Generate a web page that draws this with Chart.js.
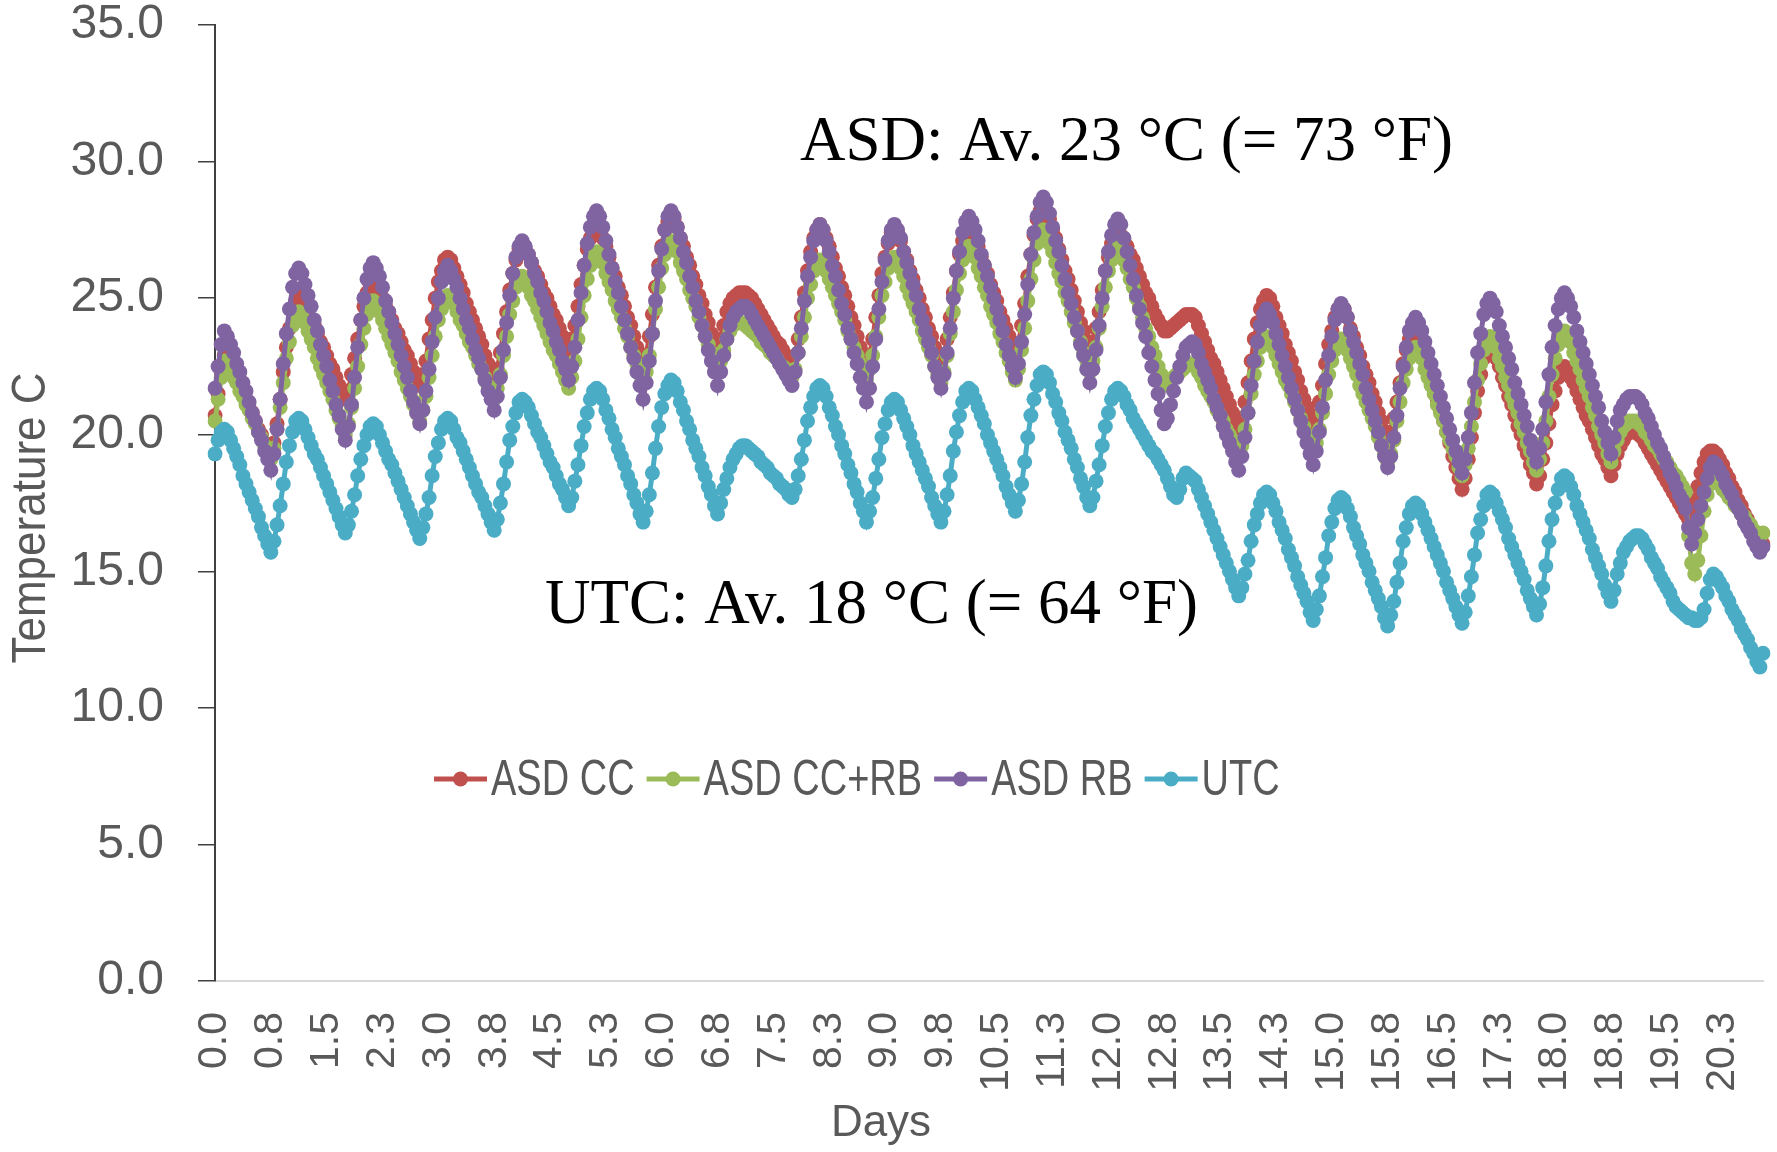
<!DOCTYPE html>
<html lang="en">
<head>
<meta charset="UTF-8">
<title>Temperature C - ASD vs UTC</title>
<script src="https://cdn.jsdelivr.net/npm/chart.js"></script>
<style>
    body {
        margin: 0;
        background: #fff;
    }

    .wrap {
        width: 1777px;
        height: 1152px;
        position: relative;
    }
</style>
</head>
<body>
<div class="wrap"><canvas id="tempChart"></canvas></div>

<script>
    // hourly readings, one row per day (peak to peak)
    const seriesNames = ['ASD CC', 'ASD CC+RB', 'ASD RB', 'UTC'];
    const seriesColors = ['#c0504d', '#9bbb59', '#8064a2', '#4bacc6'];

    const dayTicks = ['0.0', '0.8', '1.5', '2.3', '3.0', '3.8', '4.5', '5.3', '6.0', '6.8', '7.5', '8.3', '9.0', '9.8',
        '10.5', '11.3', '12.0', '12.8', '13.5', '14.3', '15.0', '15.8', '16.5', '17.3', '18.0', '18.8', '19.5', '20.3'];
    const tickEvery = 18;

    const asdCC = [
        20.7, 21.5, 22.3, 22.9,
        22.8, 22.6, 22.3, 22.1, 21.8, 21.5, 21.3, 21.0, 20.8, 20.5, 20.2, 20.0, 19.7, 19.5, 19.2, 19.7, 20.4, 21.3, 22.3, 23.2, 23.9, 24.5, 24.9, 25.1,
        25.0, 24.8, 24.5, 24.2, 24.0, 23.7, 23.4, 23.2, 22.9, 22.6, 22.4, 22.1, 21.8, 21.6, 21.3, 21.6, 22.2, 22.8, 23.5, 24.2, 24.7, 25.2, 25.5, 25.6,
        25.5, 25.3, 25.0, 24.7, 24.5, 24.2, 23.9, 23.7, 23.4, 23.1, 22.9, 22.6, 22.3, 22.1, 21.8, 22.2, 22.7, 23.5, 24.2, 25.0, 25.6, 26.0, 26.4, 26.5,
        26.4, 26.1, 25.8, 25.5, 25.2, 24.8, 24.5, 24.2, 23.9, 23.6, 23.3, 22.9, 22.6, 22.3, 22.0, 22.4, 23.0, 23.7, 24.5, 25.3, 25.9, 26.4, 26.8, 26.9,
        26.8, 26.6, 26.3, 26.0, 25.8, 25.5, 25.2, 25.0, 24.7, 24.4, 24.2, 23.9, 23.6, 23.4, 23.1, 23.5, 24.0, 24.7, 25.5, 26.2, 26.8, 27.2, 27.6, 27.7,
        27.5, 27.2, 26.9, 26.5, 26.1, 25.8, 25.4, 25.1, 24.7, 24.3, 24.0, 23.6, 23.2, 22.9, 22.5, 22.9, 23.6, 24.4, 25.4, 26.2, 26.9, 27.5, 27.8, 28.0,
        27.9, 27.6, 27.2, 26.9, 26.5, 26.2, 25.8, 25.5, 25.1, 24.8, 24.4, 24.1, 23.7, 23.4, 23.0, 23.5, 24.0, 24.5, 24.8, 25.0, 25.1, 25.2, 25.2, 25.2,
        25.1, 25.0, 24.8, 24.6, 24.4, 24.2, 24.0, 23.8, 23.6, 23.4, 23.3, 23.1, 22.9, 22.7, 22.5, 22.9, 23.5, 24.3, 25.2, 26.0, 26.7, 27.2, 27.5, 27.7,
        27.5, 27.2, 26.9, 26.5, 26.1, 25.8, 25.4, 25.1, 24.7, 24.3, 24.0, 23.6, 23.2, 22.9, 22.5, 22.9, 23.5, 24.3, 25.1, 25.9, 26.5, 27.0, 27.4, 27.5,
        27.4, 27.1, 26.7, 26.4, 26.0, 25.7, 25.3, 25.0, 24.6, 24.3, 23.9, 23.6, 23.2, 22.9, 22.5, 22.9, 23.5, 24.3, 25.2, 26.0, 26.6, 27.1, 27.5, 27.6,
        27.5, 27.2, 26.9, 26.5, 26.2, 25.9, 25.5, 25.2, 24.9, 24.5, 24.2, 23.9, 23.6, 23.2, 22.9, 23.3, 24.0, 24.8, 25.8, 26.6, 27.3, 27.9, 28.2, 28.4,
        28.2, 27.9, 27.5, 27.2, 26.8, 26.4, 26.0, 25.7, 25.3, 24.9, 24.5, 24.1, 23.8, 23.4, 23.0, 23.4, 23.9, 24.5, 25.3, 26.0, 26.5, 27.0, 27.3, 27.4,
        27.3, 27.1, 26.9, 26.6, 26.4, 26.1, 25.8, 25.5, 25.2, 25.0, 24.7, 24.4, 24.2, 24.0, 23.8, 23.8, 23.9, 24.0, 24.1, 24.2, 24.3, 24.4, 24.4, 24.4,
        24.3, 24.0, 23.7, 23.4, 23.1, 22.8, 22.6, 22.3, 22.0, 21.7, 21.4, 21.1, 20.8, 20.5, 20.2, 20.6, 21.2, 21.9, 22.7, 23.5, 24.1, 24.6, 24.9, 25.1,
        25.0, 24.7, 24.3, 24.0, 23.7, 23.3, 23.0, 22.7, 22.3, 22.0, 21.6, 21.3, 21.0, 20.6, 20.3, 20.7, 21.2, 21.8, 22.6, 23.3, 23.8, 24.3, 24.6, 24.7,
        24.6, 24.3, 23.9, 23.6, 23.2, 22.9, 22.5, 22.2, 21.9, 21.5, 21.2, 20.8, 20.5, 20.1, 19.8, 20.1, 20.6, 21.2, 21.9, 22.6, 23.1, 23.5, 23.8, 23.9,
        23.7, 23.4, 23.0, 22.5, 22.1, 21.7, 21.3, 20.9, 20.5, 20.1, 19.7, 19.2, 18.8, 18.4, 18.0, 18.4, 19.1, 19.9, 20.8, 21.6, 22.2, 22.8, 23.1, 23.3,
        23.1, 22.8, 22.5, 22.1, 21.8, 21.4, 21.1, 20.7, 20.3, 20.0, 19.6, 19.3, 18.9, 18.6, 18.2, 18.5, 19.1, 19.7, 20.4, 21.1, 21.6, 22.1, 22.4, 22.5,
        22.4, 22.1, 21.9, 21.6, 21.3, 21.0, 20.7, 20.5, 20.2, 19.9, 19.6, 19.3, 19.1, 18.8, 18.5, 18.9, 19.3, 19.6, 19.8, 20.0, 20.1, 20.1, 20.1, 20.0,
        19.9, 19.7, 19.5, 19.3, 19.1, 18.9, 18.7, 18.5, 18.3, 18.1, 17.9, 17.7, 17.5, 17.3, 17.1, 16.9, 17.1, 17.6, 18.1, 18.6, 19.0, 19.3, 19.4, 19.4,
        19.3, 19.1, 18.9, 18.6, 18.4, 18.1, 17.9, 17.6, 17.4, 17.1, 16.9, 16.6, 16.4, 16.1, 15.9, 16.0
    ];

    const asdCCRB = [
        20.5, 21.3, 22.1, 22.7,
        22.6, 22.4, 22.1, 21.9, 21.6, 21.4, 21.1, 20.9, 20.6, 20.4, 20.1, 19.9, 19.6, 19.4, 19.1, 19.5, 20.2, 21.0, 21.9, 22.8, 23.4, 24.0, 24.3, 24.5,
        24.4, 24.1, 23.8, 23.5, 23.2, 22.8, 22.5, 22.2, 21.9, 21.6, 21.3, 20.9, 20.6, 20.3, 20.0, 20.4, 21.0, 21.7, 22.5, 23.3, 23.9, 24.4, 24.8, 24.9,
        24.8, 24.5, 24.2, 23.9, 23.6, 23.3, 23.0, 22.7, 22.3, 22.0, 21.7, 21.4, 21.1, 20.8, 20.5, 20.9, 21.4, 22.1, 22.9, 23.6, 24.2, 24.6, 25.0, 25.1,
        25.0, 24.8, 24.5, 24.2, 24.0, 23.7, 23.4, 23.2, 22.9, 22.6, 22.4, 22.1, 21.8, 21.6, 21.3, 21.7, 22.2, 22.9, 23.6, 24.4, 24.9, 25.4, 25.7, 25.8,
        25.7, 25.4, 25.1, 24.9, 24.6, 24.3, 24.0, 23.7, 23.4, 23.1, 22.9, 22.6, 22.3, 22.0, 21.7, 22.1, 22.7, 23.5, 24.3, 25.1, 25.7, 26.2, 26.6, 26.7,
        26.6, 26.3, 25.9, 25.6, 25.3, 24.9, 24.6, 24.3, 23.9, 23.6, 23.2, 22.9, 22.6, 22.2, 21.9, 22.3, 22.9, 23.7, 24.6, 25.4, 26.1, 26.6, 26.9, 27.1,
        27.0, 26.7, 26.3, 26.0, 25.7, 25.3, 25.0, 24.7, 24.3, 24.0, 23.6, 23.3, 23.0, 22.6, 22.3, 22.7, 23.1, 23.5, 23.8, 24.0, 24.1, 24.1, 24.1, 24.0,
        23.9, 23.8, 23.7, 23.6, 23.4, 23.3, 23.2, 23.0, 22.9, 22.8, 22.6, 22.5, 22.4, 22.2, 22.1, 22.4, 23.0, 23.6, 24.3, 25.0, 25.5, 26.0, 26.3, 26.4,
        26.3, 26.0, 25.7, 25.4, 25.1, 24.8, 24.5, 24.2, 23.8, 23.5, 23.2, 22.9, 22.6, 22.3, 22.0, 22.4, 22.9, 23.6, 24.3, 25.1, 25.6, 26.1, 26.4, 26.5,
        26.4, 26.1, 25.8, 25.4, 25.1, 24.8, 24.5, 24.2, 23.8, 23.5, 23.2, 22.9, 22.5, 22.2, 21.9, 22.3, 22.9, 23.7, 24.5, 25.3, 25.9, 26.4, 26.8, 26.9,
        26.8, 26.5, 26.1, 25.8, 25.4, 25.1, 24.7, 24.4, 24.1, 23.7, 23.4, 23.0, 22.7, 22.3, 22.0, 22.4, 23.1, 23.9, 24.9, 25.7, 26.4, 27.0, 27.3, 27.5,
        27.3, 27.0, 26.7, 26.3, 25.9, 25.6, 25.2, 24.9, 24.5, 24.1, 23.8, 23.4, 23.0, 22.7, 22.3, 22.7, 23.2, 23.9, 24.7, 25.4, 26.0, 26.4, 26.8, 26.9,
        26.7, 26.4, 26.1, 25.7, 25.4, 25.0, 24.7, 24.3, 23.9, 23.6, 23.2, 22.9, 22.5, 22.2, 21.8, 21.9, 22.0, 22.1, 22.2, 22.3, 22.4, 22.5, 22.6, 22.6,
        22.5, 22.3, 22.1, 21.8, 21.6, 21.4, 21.2, 20.9, 20.7, 20.5, 20.2, 20.0, 19.8, 19.5, 19.3, 19.6, 20.2, 20.8, 21.5, 22.2, 22.7, 23.2, 23.5, 23.6,
        23.5, 23.2, 22.9, 22.6, 22.3, 22.0, 21.8, 21.5, 21.2, 20.9, 20.6, 20.3, 20.0, 19.7, 19.4, 19.7, 20.2, 20.8, 21.5, 22.2, 22.7, 23.1, 23.4, 23.5,
        23.4, 23.1, 22.8, 22.5, 22.2, 21.8, 21.5, 21.2, 20.9, 20.6, 20.3, 19.9, 19.6, 19.3, 19.0, 19.3, 19.8, 20.5, 21.2, 21.9, 22.4, 22.8, 23.1, 23.2,
        23.1, 22.8, 22.4, 22.1, 21.8, 21.5, 21.1, 20.8, 20.5, 20.1, 19.8, 19.5, 19.2, 18.8, 18.5, 18.9, 19.5, 20.3, 21.2, 22.0, 22.6, 23.1, 23.5, 23.6,
        23.5, 23.2, 22.8, 22.5, 22.1, 21.8, 21.4, 21.1, 20.8, 20.4, 20.1, 19.7, 19.4, 19.0, 18.7, 19.1, 19.7, 20.5, 21.4, 22.2, 22.8, 23.3, 23.6, 23.8,
        23.7, 23.4, 23.0, 22.7, 22.4, 22.0, 21.7, 21.4, 21.0, 20.7, 20.3, 20.0, 19.7, 19.3, 19.0, 19.4, 19.8, 20.1, 20.3, 20.4, 20.5, 20.5, 20.5, 20.4,
        20.3, 20.1, 20.0, 19.8, 19.6, 19.5, 19.3, 19.1, 19.0, 18.8, 18.6, 18.5, 18.3, 18.1, 17.9, 16.3, 15.3, 14.9, 15.4, 16.3, 17.2, 17.8, 18.2, 18.4,
        18.3, 18.2, 18.0, 17.9, 17.7, 17.6, 17.4, 17.3, 17.1, 17.0, 16.8, 16.7, 16.5, 16.4, 16.3, 16.4
    ];

    const asdRB = [
        21.7, 22.5, 23.3, 23.8,
        23.6, 23.3, 23.0, 22.6, 22.3, 21.9, 21.6, 21.2, 20.8, 20.5, 20.1, 19.8, 19.4, 19.1, 18.7, 19.3, 20.2, 21.3, 22.6, 23.7, 24.6, 25.4, 25.9, 26.1,
        25.9, 25.5, 25.1, 24.7, 24.2, 23.8, 23.3, 22.9, 22.5, 22.0, 21.6, 21.1, 20.7, 20.2, 19.8, 20.3, 21.1, 22.1, 23.2, 24.2, 25.0, 25.7, 26.1, 26.3,
        26.1, 25.8, 25.4, 24.9, 24.5, 24.1, 23.7, 23.3, 22.9, 22.5, 22.1, 21.6, 21.2, 20.8, 20.4, 20.9, 21.6, 22.4, 23.4, 24.3, 25.0, 25.6, 26.0, 26.2,
        26.0, 25.7, 25.4, 25.0, 24.6, 24.2, 23.9, 23.5, 23.1, 22.8, 22.4, 22.0, 21.6, 21.3, 20.9, 21.4, 22.1, 23.1, 24.1, 25.1, 25.9, 26.5, 26.9, 27.1,
        26.9, 26.6, 26.3, 25.9, 25.6, 25.2, 24.9, 24.5, 24.1, 23.8, 23.4, 23.1, 22.7, 22.4, 22.0, 22.5, 23.2, 24.2, 25.2, 26.2, 27.0, 27.6, 28.0, 28.2,
        28.0, 27.6, 27.1, 26.6, 26.1, 25.6, 25.2, 24.7, 24.2, 23.7, 23.2, 22.8, 22.3, 21.8, 21.3, 21.9, 22.7, 23.7, 24.9, 26.0, 26.8, 27.5, 28.0, 28.2,
        28.0, 27.6, 27.2, 26.7, 26.3, 25.8, 25.4, 24.9, 24.5, 24.0, 23.6, 23.1, 22.7, 22.3, 21.8, 22.3, 22.9, 23.5, 24.0, 24.3, 24.5, 24.6, 24.7, 24.7,
        24.6, 24.4, 24.2, 24.0, 23.8, 23.6, 23.4, 23.2, 23.0, 22.8, 22.6, 22.4, 22.2, 22.0, 21.8, 22.3, 23.0, 23.9, 24.9, 25.8, 26.5, 27.1, 27.5, 27.7,
        27.5, 27.1, 26.7, 26.2, 25.8, 25.3, 24.8, 24.4, 23.9, 23.5, 23.0, 22.6, 22.1, 21.7, 21.2, 21.7, 22.5, 23.5, 24.6, 25.6, 26.4, 27.1, 27.5, 27.7,
        27.5, 27.2, 26.7, 26.3, 25.9, 25.5, 25.1, 24.6, 24.2, 23.8, 23.4, 23.0, 22.5, 22.1, 21.7, 22.2, 23.0, 23.9, 25.0, 26.0, 26.7, 27.4, 27.8, 28.0,
        27.8, 27.5, 27.1, 26.6, 26.2, 25.8, 25.4, 25.0, 24.6, 24.2, 23.8, 23.3, 22.9, 22.5, 22.1, 22.6, 23.4, 24.4, 25.5, 26.6, 27.4, 28.0, 28.5, 28.7,
        28.5, 28.1, 27.6, 27.1, 26.7, 26.2, 25.7, 25.2, 24.8, 24.3, 23.8, 23.3, 22.9, 22.4, 21.9, 22.4, 23.1, 24.0, 25.0, 26.0, 26.7, 27.3, 27.7, 27.9,
        27.7, 27.2, 26.7, 26.2, 25.7, 25.1, 24.6, 24.1, 23.6, 23.0, 22.5, 22.0, 21.5, 20.9, 20.4, 20.6, 21.1, 21.6, 22.1, 22.5, 22.9, 23.2, 23.3, 23.4,
        23.3, 23.0, 22.6, 22.3, 22.0, 21.7, 21.3, 21.0, 20.7, 20.3, 20.0, 19.7, 19.4, 19.0, 18.7, 19.2, 19.9, 20.8, 21.8, 22.7, 23.4, 24.0, 24.4, 24.6,
        24.4, 24.1, 23.7, 23.3, 22.9, 22.5, 22.1, 21.7, 21.3, 20.9, 20.5, 20.1, 19.7, 19.3, 18.9, 19.4, 20.1, 21.0, 22.0, 22.9, 23.6, 24.2, 24.6, 24.8,
        24.6, 24.3, 23.8, 23.4, 23.0, 22.6, 22.2, 21.7, 21.3, 20.9, 20.5, 20.1, 19.6, 19.2, 18.8, 19.2, 19.9, 20.7, 21.7, 22.5, 23.2, 23.8, 24.1, 24.3,
        24.1, 23.8, 23.4, 23.0, 22.6, 22.2, 21.8, 21.4, 21.0, 20.6, 20.2, 19.8, 19.4, 19.0, 18.6, 19.1, 19.9, 20.8, 21.9, 23.0, 23.7, 24.4, 24.8, 25.0,
        24.8, 24.5, 24.0, 23.6, 23.2, 22.8, 22.4, 21.9, 21.5, 21.1, 20.7, 20.3, 19.8, 19.4, 19.0, 19.5, 20.2, 21.2, 22.2, 23.2, 24.0, 24.6, 25.0, 25.2,
        25.0, 24.7, 24.3, 23.8, 23.4, 23.0, 22.6, 22.2, 21.8, 21.4, 21.0, 20.5, 20.1, 19.7, 19.3, 19.9, 20.5, 20.9, 21.1, 21.3, 21.4, 21.4, 21.4, 21.3,
        21.1, 20.8, 20.6, 20.3, 20.0, 19.7, 19.5, 19.2, 18.9, 18.6, 18.4, 18.1, 17.8, 17.6, 17.3, 16.6, 16.0, 16.4, 16.9, 17.4, 17.9, 18.4, 18.8, 19.0,
        18.9, 18.7, 18.5, 18.2, 18.0, 17.8, 17.5, 17.3, 17.1, 16.8, 16.6, 16.4, 16.1, 15.9, 15.7, 15.9
    ];

    const utc = [
        19.3, 19.8, 20.1, 20.2,
        20.1, 19.8, 19.5, 19.2, 18.9, 18.5, 18.2, 17.9, 17.6, 17.3, 17.0, 16.6, 16.3, 16.0, 15.7, 16.1, 16.7, 17.4, 18.2, 19.0, 19.6, 20.1, 20.5, 20.6,
        20.5, 20.2, 19.9, 19.6, 19.3, 19.1, 18.8, 18.5, 18.2, 17.9, 17.6, 17.3, 17.0, 16.7, 16.4, 16.7, 17.2, 17.8, 18.5, 19.1, 19.6, 20.0, 20.3, 20.4,
        20.3, 20.0, 19.7, 19.4, 19.1, 18.9, 18.6, 18.3, 18.0, 17.7, 17.4, 17.1, 16.8, 16.5, 16.2, 16.6, 17.1, 17.7, 18.5, 19.2, 19.7, 20.2, 20.5, 20.6,
        20.5, 20.2, 19.9, 19.7, 19.4, 19.1, 18.8, 18.5, 18.2, 17.9, 17.7, 17.4, 17.1, 16.8, 16.5, 16.9, 17.5, 18.2, 19.0, 19.8, 20.3, 20.8, 21.2, 21.3,
        21.2, 21.0, 20.7, 20.4, 20.1, 19.9, 19.6, 19.3, 19.0, 18.8, 18.5, 18.2, 18.0, 17.7, 17.4, 17.7, 18.3, 18.9, 19.6, 20.3, 20.8, 21.3, 21.6, 21.7,
        21.6, 21.3, 20.9, 20.6, 20.2, 19.9, 19.5, 19.2, 18.9, 18.5, 18.2, 17.8, 17.5, 17.1, 16.8, 17.2, 17.8, 18.6, 19.5, 20.3, 21.0, 21.5, 21.8, 22.0,
        21.9, 21.6, 21.2, 20.9, 20.5, 20.2, 19.8, 19.5, 19.2, 18.8, 18.5, 18.1, 17.8, 17.4, 17.1, 17.5, 18.0, 18.4, 18.8, 19.1, 19.3, 19.5, 19.6, 19.6,
        19.5, 19.4, 19.3, 19.2, 19.0, 18.9, 18.8, 18.6, 18.5, 18.4, 18.2, 18.1, 18.0, 17.8, 17.7, 18.0, 18.5, 19.1, 19.8, 20.5, 21.0, 21.4, 21.7, 21.8,
        21.7, 21.4, 21.0, 20.7, 20.3, 20.0, 19.6, 19.3, 18.9, 18.6, 18.2, 17.9, 17.5, 17.2, 16.8, 17.2, 17.7, 18.4, 19.1, 19.9, 20.4, 20.9, 21.2, 21.3,
        21.2, 20.9, 20.6, 20.3, 20.0, 19.6, 19.3, 19.0, 18.7, 18.4, 18.1, 17.7, 17.4, 17.1, 16.8, 17.2, 17.8, 18.5, 19.4, 20.1, 20.7, 21.2, 21.6, 21.7,
        21.6, 21.3, 21.0, 20.7, 20.4, 20.0, 19.7, 19.4, 19.1, 18.8, 18.5, 18.1, 17.8, 17.5, 17.2, 17.6, 18.2, 19.0, 19.9, 20.7, 21.3, 21.8, 22.2, 22.3,
        22.2, 21.9, 21.5, 21.2, 20.8, 20.5, 20.1, 19.8, 19.5, 19.1, 18.8, 18.4, 18.1, 17.7, 17.4, 17.7, 18.3, 18.9, 19.6, 20.3, 20.8, 21.3, 21.6, 21.7,
        21.6, 21.4, 21.1, 20.9, 20.6, 20.4, 20.2, 20.0, 19.8, 19.6, 19.4, 19.3, 19.1, 18.9, 18.7, 18.4, 18.1, 17.8, 17.7, 18.0, 18.4, 18.6, 18.5, 18.4,
        18.3, 18.0, 17.7, 17.4, 17.1, 16.8, 16.5, 16.2, 15.9, 15.6, 15.3, 15.0, 14.7, 14.4, 14.1, 14.4, 14.9, 15.4, 16.1, 16.7, 17.1, 17.5, 17.8, 17.9,
        17.8, 17.5, 17.2, 16.8, 16.5, 16.2, 15.8, 15.5, 15.2, 14.8, 14.5, 14.2, 13.9, 13.5, 13.2, 13.6, 14.1, 14.8, 15.5, 16.3, 16.8, 17.3, 17.6, 17.7,
        17.6, 17.3, 17.0, 16.6, 16.3, 16.0, 15.6, 15.3, 15.0, 14.6, 14.3, 14.0, 13.7, 13.3, 13.0, 13.4, 13.9, 14.6, 15.3, 16.1, 16.6, 17.1, 17.4, 17.5,
        17.4, 17.1, 16.8, 16.5, 16.2, 15.9, 15.6, 15.3, 15.0, 14.6, 14.3, 14.0, 13.7, 13.4, 13.1, 13.5, 14.1, 14.8, 15.6, 16.4, 16.9, 17.4, 17.8, 17.9,
        17.8, 17.5, 17.2, 16.9, 16.6, 16.2, 15.9, 15.6, 15.3, 15.0, 14.7, 14.3, 14.0, 13.7, 13.4, 13.8, 14.4, 15.2, 16.1, 16.9, 17.5, 18.0, 18.4, 18.5,
        18.4, 18.1, 17.8, 17.4, 17.1, 16.8, 16.5, 16.2, 15.8, 15.5, 15.2, 14.9, 14.5, 14.2, 13.9, 14.3, 14.9, 15.3, 15.7, 15.9, 16.1, 16.2, 16.3, 16.3,
        16.2, 16.0, 15.8, 15.5, 15.3, 15.1, 14.8, 14.6, 14.4, 14.2, 13.9, 13.7, 13.6, 13.5, 13.4, 13.3, 13.3, 13.2, 13.2, 13.3, 13.6, 14.2, 14.7, 14.9,
        14.8, 14.6, 14.4, 14.1, 13.9, 13.6, 13.4, 13.2, 12.9, 12.7, 12.5, 12.2, 12.0, 11.7, 11.5, 12.0
    ];

    // one category per hour, x value in days
    const days = utc.map((v, i) => (i / 24).toFixed(1));

    const textColor = '#595959';
    const lineW = 5;
    const dotR = 7.5;

    // chart texts that sit on the canvas: notes, legend, axis titles
    const overlayText = {
        id: 'overlayText',
        afterDraw(chart) {
            const ctx = chart.ctx;
            ctx.save();

            ctx.fillStyle = '#000';
            ctx.font = '63px "Liberation Serif", "Times New Roman", serif';
            ctx.textAlign = 'left';
            ctx.textBaseline = 'alphabetic';
            ctx.fillText('ASD: Av. 23 °C (= 73 °F)', 800, 160);
            ctx.fillText('UTC: Av. 18 °C (= 64 °F)', 545, 623);

            ctx.fillStyle = textColor;
            ctx.font = '44px "Liberation Sans", Arial, sans-serif';
            ctx.textAlign = 'center';
            ctx.fillText('Days', 881, 1136);

            ctx.save();
            ctx.translate(45, 518);
            ctx.rotate(-Math.PI / 2);
            ctx.scale(1, 1.1);
            ctx.fillText('Temperature C', 0, 0);
            ctx.restore();

            // legend: line with a dot, then the name (condensed like the original)
            let x = 434;
            const y = 779;
            const squeeze = 0.76;
            ctx.font = '50px "Liberation Sans", Arial, sans-serif';
            ctx.textAlign = 'left';
            ctx.textBaseline = 'middle';
            seriesNames.forEach((name, k) => {
                ctx.strokeStyle = seriesColors[k];
                ctx.fillStyle = seriesColors[k];
                ctx.lineWidth = lineW;
                ctx.beginPath();
                ctx.moveTo(x, y);
                ctx.lineTo(x + 53, y);
                ctx.stroke();
                ctx.beginPath();
                ctx.arc(x + 26.5, y, dotR, 0, Math.PI * 2);
                ctx.fill();

                ctx.save();
                ctx.translate(x + 57, y + 2);
                ctx.scale(squeeze, 1);
                ctx.fillStyle = textColor;
                ctx.fillText(name, 0, 0);
                ctx.restore();
                x += 57 + ctx.measureText(name).width * squeeze + 12;
            });

            ctx.restore();
        }
    };

    const allSeries = [asdCC, asdCCRB, asdRB, utc];

    new Chart(document.getElementById('tempChart'), {
        type: 'line',
        data: {
            labels: days,
            datasets: allSeries.map((values, k) => ({
                label: seriesNames[k],
                data: values,
                borderColor: seriesColors[k],
                backgroundColor: seriesColors[k],
                borderWidth: lineW,
                pointRadius: dotR,
                pointHoverRadius: dotR,
                pointBorderWidth: 0,
                tension: 0,
                order: 3 - k
            }))
        },
        options: {
            responsive: true,
            maintainAspectRatio: false,
            animation: false,
            layout: { padding: { top: 25, right: 14, left: 0, bottom: 0 } },
            plugins: {
                legend: { display: false },
                tooltip: { enabled: false }
            },
            scales: {
                x: {
                    grid: { display: false, drawTicks: false },
                    border: { display: true, color: '#d9d9d9', width: 2 },
                    ticks: {
                        autoSkip: false,
                        minRotation: 90,
                        maxRotation: 90,
                        padding: 31,
                        color: textColor,
                        font: { family: '"Liberation Sans", Arial, sans-serif', size: 41 },
                        callback: (v, i) => (i % tickEvery === 0 ? dayTicks[i / tickEvery] : '')
                    },
                    afterFit: s => {
                        s.height = 171;
                        s.paddingLeft = 0;
                        s.paddingRight = 0;
                    }
                },
                y: {
                    min: 0,
                    max: 35,
                    grid: { drawOnChartArea: false, drawTicks: true, tickLength: 17, color: '#404040', lineWidth: 1.5 },
                    border: { color: '#404040', width: 2 },
                    ticks: {
                        stepSize: 5,
                        padding: 34,
                        color: textColor,
                        font: { family: '"Liberation Sans", Arial, sans-serif', size: 48 },
                        callback: v => v.toFixed(1)
                    },
                    afterFit: s => {
                        s.width = 215;
                        s.paddingTop = 0;
                        s.paddingBottom = 0;
                    }
                }
            }
        },
        plugins: [overlayText]
    });
</script>
</body>
</html>
